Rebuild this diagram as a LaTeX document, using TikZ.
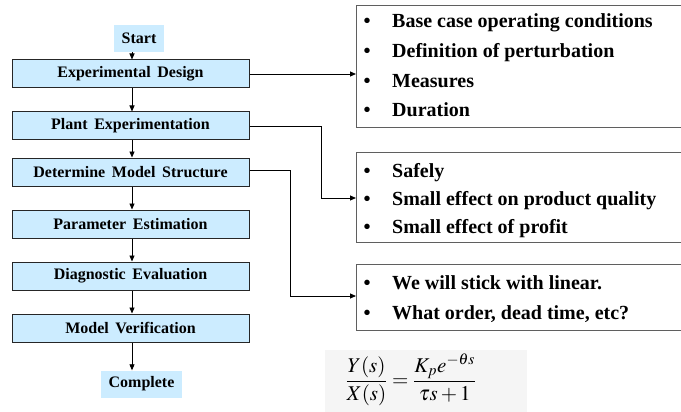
\documentclass[tikz,border=0pt]{standalone}
\usepackage{mathptmx}
\usepackage[no-math]{fontspec}
\setmainfont{Liberation Serif}[BoldFont={Liberation Serif Bold}]
\usetikzlibrary{arrows.meta}
\definecolor{boxblue}{RGB}{204,236,255}
\definecolor{edgegray}{RGB}{95,95,95}
\begin{document}
\begin{tikzpicture}[x=1pt,y=-1pt,
  stepbox/.style={draw=black!85, line width=1pt, fill=boxblue, minimum width=237pt,
    minimum height=28pt, inner sep=0pt, font=\fontsize{16}{18}\selectfont\bfseries},
  endbox/.style={fill=boxblue, inner sep=0pt, minimum height=27pt,
    font=\fontsize{16}{18}\selectfont\bfseries},
  notebox/.style={draw=edgegray, line width=1.3pt, fill=white, inner sep=0pt,
    anchor=north west, minimum width=340pt},
  item/.style={anchor=base west, inner sep=0pt, font=\fontsize{20}{22}\selectfont\bfseries},
  dot/.style={anchor=base, inner sep=0pt, font=\fontsize{20}{22}\selectfont\bfseries},
  arr/.style={line width=0.8pt, -{Triangle[length=6pt,width=5pt]}},
]
\clip (0,0) rectangle (681,412);

% flow chart
\coordinate (spine) at (132,0);
\node[endbox, minimum width=50pt] (start) at (139,38.5) {Start};
\node[stepbox] (exp)   at (130.5,74)  {Experimental\, Design};
\node[stepbox] (plant) at (130.5,126) {Plant\, Experimentation};
\node[stepbox] (model) at (130.5,172) {Determine\, Model\, Structure};
\node[stepbox] (param) at (130.5,224) {Parameter\, Estimation};
\node[stepbox] (diag)  at (130.5,276) {Diagnostic\, Evaluation};
\node[stepbox] (verif) at (130.5,328) {Model\, Verification};
\node[endbox, minimum width=81pt] (done) at (141.5,384) {Complete};

\foreach \a/\b in {start/exp, exp/plant, plant/model, model/param, param/diag, diag/verif, verif/done}
  \draw[arr] (\a.south -| spine) -- (\b.north -| spine);

% note boxes
\node[notebox, minimum height=122pt] (n1) at (356,5) {};
\node[notebox, minimum height=90pt]  (n2) at (356,152) {};
\node[notebox, minimum height=66pt]  (n3) at (356,264) {};

\foreach \y/\t [count=\i] in {28/Base case operating conditions, 58/Definition of perturbation,
    88/Measures, 117/Duration}{
  \node[dot] (d1\i) at (367,\y) {\textbullet};
  \node[item] (t1\i) at (392,\y) {\t};
}
\foreach \y/\t [count=\i] in {177/Safely, 205/Small effect on product quality,
    233/Small effect of profit}{
  \node[dot] (d2\i) at (367,\y) {\textbullet};
  \node[item] (t2\i) at (392,\y) {\t};
}
\foreach \y/\t [count=\i] in {289/We will stick with linear., 319/{What order, dead time, etc?}}{
  \node[dot] (d3\i) at (367,\y) {\textbullet};
  \node[item] (t3\i) at (392,\y) {\t};
}

% connectors to the notes
\coordinate (k2) at (321,198);
\coordinate (k3) at (290,296);
\draw[arr] (exp.east) -- (exp.east -| n1.west);
\draw[arr] (plant.east) -| (k2) -- (k2 -| n2.west);
\draw[arr] (model.east |- 0,170) -| (k3) -- (k3 -| n3.west);

% transfer function
\fill[black!4] (325,350) rectangle (527,415);
\node[inner sep=0pt, font=\fontsize{21}{25}\selectfont] (tf) at (411,380)
  {$\displaystyle\frac{Y(s)}{X(s)}=\frac{K_p e^{-\theta s}}{\tau s+1}$};
\end{tikzpicture}
\end{document}
